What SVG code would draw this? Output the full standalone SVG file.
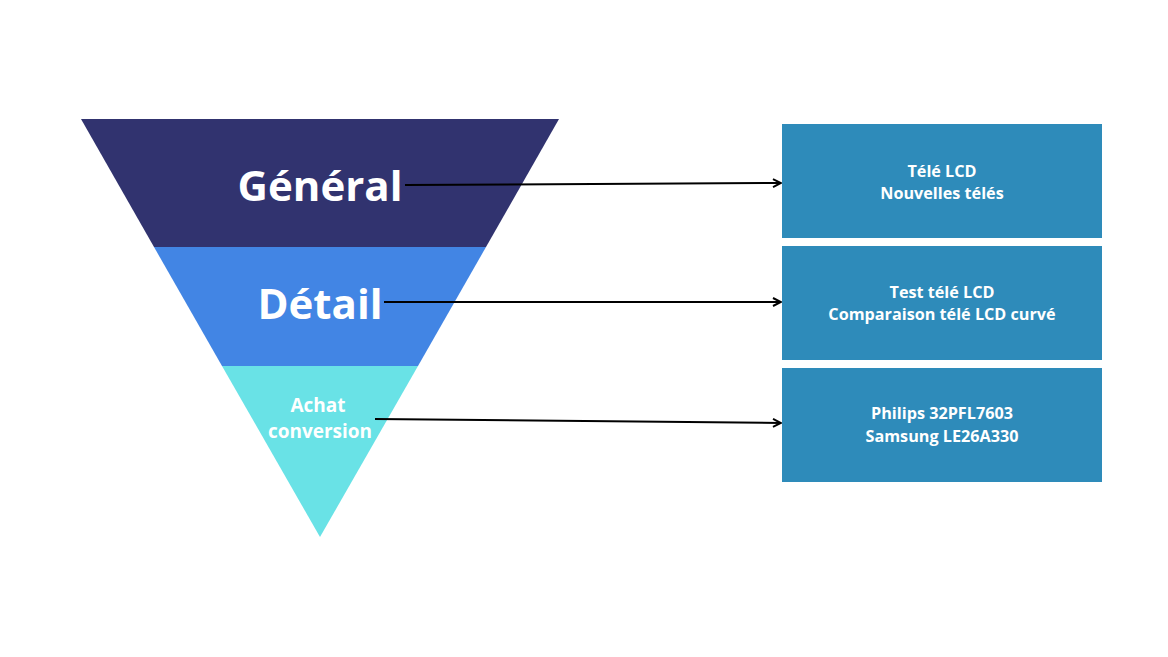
<svg xmlns="http://www.w3.org/2000/svg" width="1168" height="657" viewBox="0 0 1168 657">
<defs>
<style>
.lbl{font-family:"Open Sans","Noto Sans","Liberation Sans",sans-serif;font-weight:bold;fill:#ffffff;text-anchor:middle}
.big{font-size:42px}
.mid{font-size:19px}
.box{fill:#2e8bba}
.btxt{font-family:"Open Sans","Noto Sans","Liberation Sans",sans-serif;font-weight:bold;fill:#ffffff;text-anchor:middle;font-size:16.2px}
.conn{stroke:#000000;stroke-width:2;fill:none;marker-end:url(#arr)}
</style>
<marker id="arr" viewBox="0 0 10 10" refX="9" refY="5" markerWidth="5" markerHeight="5" orient="auto" markerUnits="strokeWidth">
<path d="M1,1 L9,5 L1,9" fill="none" stroke="#000000" stroke-width="2"/>
</marker>
</defs>
<rect width="1168" height="657" fill="#ffffff"/>
<g id="general">
<polygon points="81,119 559,119 486,247 154,247" fill="#31336f"/>
<text class="lbl big" x="320" y="201">Général</text>
</g>
<g id="detail">
<polygon points="154,247 486,247 418,366 222,366" fill="#4285e4"/>
<text class="lbl big" x="320" y="319">Détail</text>
</g>
<g id="achat">
<polygon points="222,366 418,366 320,537" fill="#69e2e6"/>
<text class="lbl mid" x="318" y="412">Achat</text>
<text class="lbl mid" x="320" y="438">conversion</text>
</g>
<g id="box1">
<rect class="box" x="782" y="124" width="320" height="114"/>
<text class="btxt" x="942" y="177">Télé LCD</text>
<text class="btxt" x="942" y="199">Nouvelles télés</text>
</g>
<g id="box2">
<rect class="box" x="782" y="246" width="320" height="114"/>
<text class="btxt" x="942" y="298">Test télé LCD</text>
<text class="btxt" x="942" y="320">Comparaison télé LCD curvé</text>
</g>
<g id="box3">
<rect class="box" x="782" y="368" width="320" height="114"/>
<text class="btxt" x="942" y="419">Philips 32PFL7603</text>
<text class="btxt" x="942" y="442">Samsung LE26A330</text>
</g>
<g id="connectors">
<line class="conn" x1="405" y1="185" x2="781" y2="183"/>
<line class="conn" x1="384" y1="302" x2="781" y2="302"/>
<line class="conn" x1="375" y1="419" x2="781" y2="423"/>
</g>
</svg>
